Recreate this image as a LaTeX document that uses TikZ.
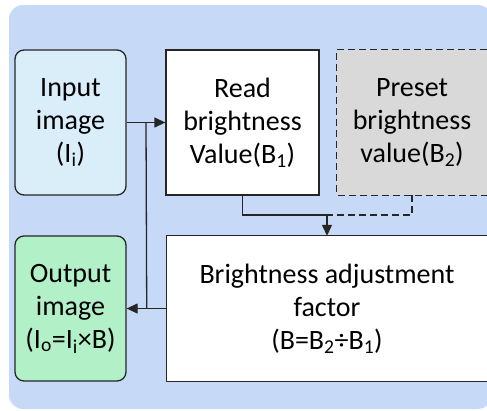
\documentclass[tikz,border=0pt]{standalone}
\usepackage{fontspec}
\setmainfont{Carlito}
\usetikzlibrary{arrows.meta,calc}
\definecolor{bgblue}{RGB}{198,217,247}
\definecolor{inblue}{RGB}{218,238,250}
\definecolor{outgreen}{RGB}{178,240,200}
\definecolor{presetgray}{RGB}{217,217,217}
\definecolor{edge}{RGB}{38,38,38}
\tikzset{
  boxbase/.style={align=center, inner sep=0pt,
    font=\fontsize{28}{33}\selectfont, text=black},
  roundbox/.style={boxbase, draw=edge, line width=1.3pt, rounded corners=9pt, minimum width=111pt, minimum height=145pt},
  squarebox/.style={boxbase, minimum height=145pt},
  edgeline/.style={draw=edge, line width=1.3pt},
  dashline/.style={edgeline, dash pattern=on 7pt off 4pt},
  conn/.style={draw=edge, line width=1.3pt},
  tip/.style={-{Triangle[length=11pt,width=10pt]}},
}
\begin{document}
\begin{tikzpicture}[x=1pt,y=-1pt]
\useasboundingbox (0,0) rectangle (487,410);
\fill[bgblue] (23,5) -- (478,5) arc[start angle=-90,end angle=-50,radius=14]
  -- (487,405.72) arc[start angle=50,end angle=90,radius=14]
  -- (23,409) arc[start angle=90,end angle=180,radius=14]
  -- (9,19) arc[start angle=180,end angle=270,radius=14] -- cycle;
\node[roundbox, fill=inblue] (in) at (70.5,122.5) {Input\\image\\(I\textsubscript{i})};
\node[roundbox, fill=outgreen] (out) at (70.5,308.5) {Output\\image\\(I\textsubscript{o}=I\textsubscript{i}×B)};
\node[squarebox, fill=white, edgeline, minimum width=153pt] (read) at (242.5,122.5) {Read\\brightness\\Value(B\textsubscript{1})};
\node[squarebox, fill=presetgray, minimum width=150pt] (pre) at (412,122.5) {Preset\\brightness\\value(B\textsubscript{2})};
\draw[dashline] (pre.north east) -- (pre.north west) -- (pre.south west) -- (pre.south east);
\node[squarebox, fill=white, minimum width=320pt] (br) at (327,308.5) {Brightness adjustment\\factor\\(B=B\textsubscript{2}÷B\textsubscript{1})};
\draw[edgeline] (br.north east) -- (br.north west) -- (br.south west) -- (br.south east);
\coordinate (mj) at (327,215);
\draw[conn, tip] (in.east) -- (read.west);
\draw[conn, tip] (br.west) -- (out.east);
\draw[conn] ($(in.east)!0.5!(read.west)$) -- ($(out.east)!0.5!(br.west)$);
\draw[conn] (read.south) |- (mj);
\draw[dashline] (pre.south) |- (mj);
\draw[conn, tip] (mj) -- (br.north);
\end{tikzpicture}
\end{document}
